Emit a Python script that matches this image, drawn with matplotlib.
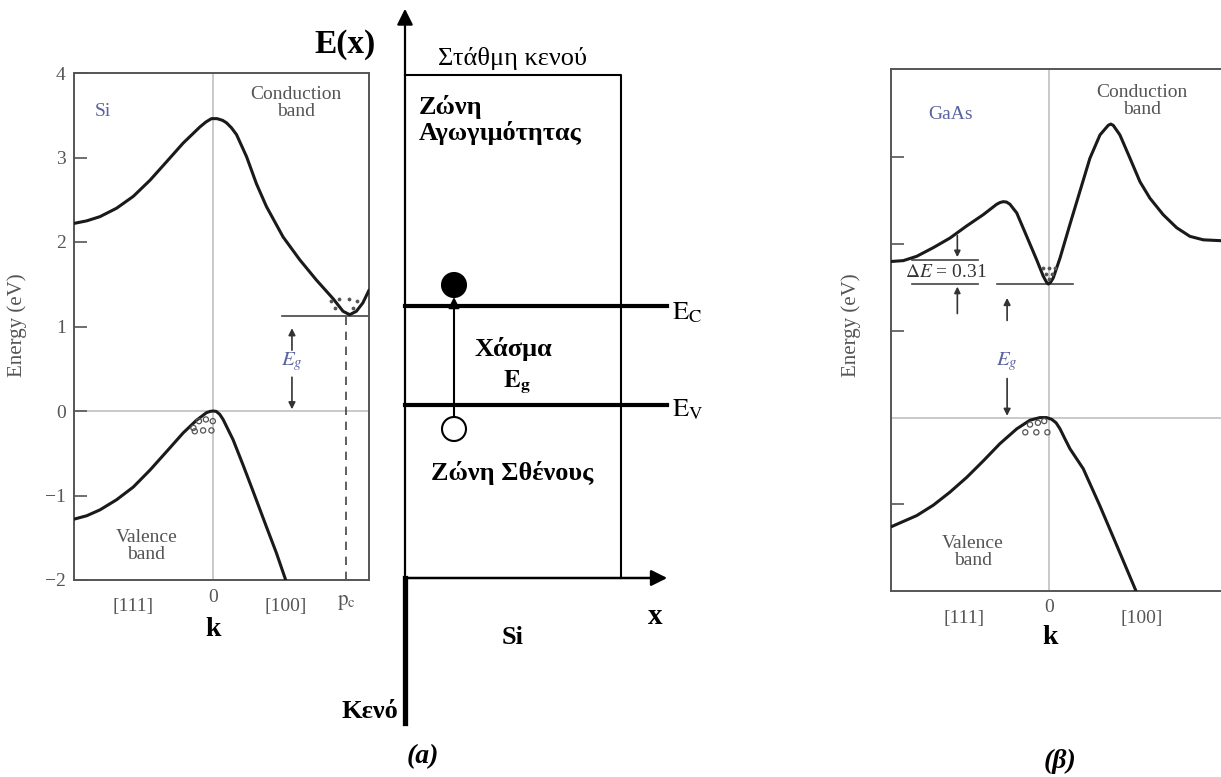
import numpy as np
import matplotlib
matplotlib.use('Agg')
import matplotlib.pyplot as plt
from matplotlib.patches import Circle

plt.rcParams['font.family'] = ['Liberation Serif', 'DejaVu Serif']
plt.rcParams['mathtext.fontset'] = 'stix'

# Si band structure, k in arbitrary units (0 = zone centre), E in eV
si_cb_k = [-1.0, -0.909, -0.813, -0.693, -0.573, -0.453, -0.333, -0.214, -0.094, -0.05, -0.01, 0.03,
           0.07, 0.099, 0.135, 0.171, 0.243, 0.314, 0.386, 0.506, 0.626, 0.746, 0.866, 0.938, 0.986,
           1.034, 1.081, 1.125]
si_cb_E = [2.22, 2.25, 2.30, 2.40, 2.54, 2.73, 2.95, 3.17, 3.36, 3.42, 3.46, 3.46,
           3.44, 3.41, 3.35, 3.27, 3.01, 2.69, 2.42, 2.06, 1.79, 1.55, 1.33, 1.18, 1.14,
           1.18, 1.28, 1.43]
si_vb_k = [-1.0, -0.909, -0.813, -0.693, -0.573, -0.453, -0.333, -0.214, -0.118, -0.046, -0.02, 0.002,
           0.025, 0.05, 0.074, 0.146, 0.218, 0.290, 0.386, 0.458, 0.525]
si_vb_E = [-1.28, -1.24, -1.17, -1.05, -0.90, -0.70, -0.48, -0.26, -0.11, -0.02, -0.005, 0.0,
           -0.005, -0.04, -0.10, -0.34, -0.64, -0.95, -1.37, -1.68, -2.0]
si_gap = 1.13
si_pc = 0.957
si_holes_k = [-0.14, -0.10, -0.05, 0.0, -0.13, -0.07, -0.01]
si_holes_E = [-0.20, -0.12, -0.10, -0.12, -0.24, -0.23, -0.23]
si_el_k = [0.85, 0.91, 0.98, 1.04, 0.88, 1.01]
si_el_E = [1.30, 1.33, 1.33, 1.30, 1.22, 1.22]

# GaAs band structure
gaas_cb_k = [-1.0, -0.922, -0.837, -0.732, -0.627, -0.521, -0.416, -0.331, -0.31, -0.289, -0.268,
             -0.247, -0.204, -0.141, -0.078, -0.036, -0.015, -0.004, 0.01, 0.027, 0.070, 0.133,
             0.196, 0.259, 0.323, 0.375, 0.391, 0.407, 0.449, 0.513, 0.576, 0.639, 0.723, 0.808,
             0.892, 0.977, 1.089]
gaas_cb_E = [1.80, 1.81, 1.86, 1.96, 2.07, 2.21, 2.34, 2.46, 2.48, 2.49, 2.485,
             2.46, 2.36, 2.09, 1.82, 1.63, 1.56, 1.54, 1.56, 1.61, 1.84, 2.23,
             2.61, 2.99, 3.26, 3.37, 3.385, 3.37, 3.26, 2.99, 2.72, 2.53, 2.34, 2.19,
             2.09, 2.05, 2.04]
gaas_vb_k = [-1.0, -0.837, -0.732, -0.627, -0.521, -0.416, -0.310, -0.204, -0.120, -0.057, -0.015,
             0.017, 0.045, 0.070, 0.101, 0.133, 0.217, 0.323, 0.428, 0.551]
gaas_vb_E = [-1.26, -1.13, -1.01, -0.86, -0.69, -0.50, -0.30, -0.13, -0.03, 0.0, 0.0,
             -0.02, -0.06, -0.13, -0.245, -0.36, -0.59, -1.02, -1.47, -2.0]
gaas_gap = 1.54
gaas_side = 1.82
gaas_holes_k = [-0.15, -0.08, -0.01, -0.12, -0.07, -0.03]
gaas_holes_E = [-0.17, -0.17, -0.17, -0.08, -0.06, -0.04]
gaas_el_k = [-0.04, 0.0, 0.04, -0.02, 0.02, 0.0]
gaas_el_E = [1.72, 1.72, 1.72, 1.66, 1.66, 1.60]

ink = '#1a1a1a'
grey_txt = '#555555'
blue_txt = '#5863a0'

fig = plt.figure(figsize=(12.21, 7.77), dpi=100)


def band_panel(rect, xlim, ylim):
    ax = fig.add_axes(rect)
    ax.set_xlim(*xlim)
    ax.set_ylim(*ylim)
    ax.patch.set_alpha(0)
    for s in ax.spines.values():
        s.set_color('#555555')
        s.set_linewidth(1.4)
    ax.tick_params(axis='y', direction='in', length=9, width=1.2, color='#555555',
                   labelsize=14, labelcolor=grey_txt, pad=6)
    ax.tick_params(axis='x', length=0, labelbottom=False)
    ax.axhline(0, color='#bbbbbb', lw=1.1, zorder=1)
    ax.axvline(0, color='#bbbbbb', lw=1.1, zorder=1)
    return ax


def arrow(ax, x, y0, y1, ms=10):
    ax.annotate('', xy=(x, y1), xytext=(x, y0),
                arrowprops=dict(arrowstyle='-|>', color='#333333', lw=1.2, mutation_scale=ms,
                                shrinkA=0, shrinkB=0))


# ---- (a) left: Si E-k diagram
ax1 = band_panel([74 / 1221, 1 - 580 / 777, 295 / 1221, 507 / 777], (-1.0, 1.125), (-2, 4))
ax1.set_yticks([-2, -1, 0, 1, 2, 3, 4])
ax1.set_yticklabels(['\u22122', '\u22121', '0', '1', '2', '3', '4'])
ax1.plot(si_cb_k, si_cb_E, color=ink, lw=2.2, zorder=3, solid_capstyle='round')
ax1.plot(si_vb_k, si_vb_E, color=ink, lw=2.2, zorder=3, solid_capstyle='round')
ax1.plot([0.5, 1.125], [si_gap, si_gap], color='#444444', lw=1.2)
ax1.plot([si_pc, si_pc], [-2, si_gap], color='#444444', lw=1.2, ls=(0, (5, 4)))
ax1.scatter(si_holes_k, si_holes_E, s=14, facecolors='none', edgecolors='#555555', lw=0.9, zorder=4)
ax1.scatter(si_el_k, si_el_E, s=3, color='#555555', zorder=4)
arrow(ax1, 0.57, 0.72, 0.98)
arrow(ax1, 0.57, 0.40, 0.02)
ax1.text(0.57, 0.58, r'$E_g$', color=blue_txt, fontsize=15, ha='center', va='center')
ax1.text(-0.79, 3.55, 'Si', color=blue_txt, fontsize=14, ha='center', va='center')
ax1.text(0.60, 3.65, 'Conduction\nband', color=grey_txt, fontsize=14, ha='center', va='center',
         linespacing=1.0)
ax1.text(-0.48, -1.6, 'Valence\nband', color=grey_txt, fontsize=14, ha='center', va='center',
         linespacing=1.0)

# ---- (b) right: GaAs E-k diagram
ax2 = band_panel([891 / 1221, 1 - 591 / 777, 330 / 1221, 522 / 777], (-1.0, 1.089), (-2, 4.02))
ax2.spines['right'].set_visible(False)
ax2.set_yticks([-1, 1, 2, 3])
ax2.set_yticklabels([])
ax2.plot(gaas_cb_k, gaas_cb_E, color=ink, lw=2.2, zorder=3, solid_capstyle='round')
ax2.plot(gaas_vb_k, gaas_vb_E, color=ink, lw=2.2, zorder=3, solid_capstyle='round')
ax2.plot([-0.87, -0.45], [gaas_side, gaas_side], color='#444444', lw=1.2)
ax2.plot([-0.87, -0.45], [gaas_gap, gaas_gap], color='#444444', lw=1.2)
ax2.plot([-0.33, 0.15], [gaas_gap, gaas_gap], color='#444444', lw=1.2)
ax2.scatter(gaas_holes_k, gaas_holes_E, s=14, facecolors='none', edgecolors='#555555', lw=0.9, zorder=4)
ax2.scatter(gaas_el_k, gaas_el_E, s=3, color='#555555', zorder=4)
arrow(ax2, -0.58, 2.1, gaas_side + 0.03, ms=9)
arrow(ax2, -0.58, 1.2, gaas_gap - 0.03, ms=9)
arrow(ax2, -0.265, 1.12, 1.38)
arrow(ax2, -0.265, 0.45, 0.02)
ax2.text(-0.265, 0.65, r'$E_g$', color=blue_txt, fontsize=15, ha='center', va='center')
ax2.text(-0.65, 1.67, r'$\Delta E$ = 0.31', color='#333333', fontsize=14, ha='center', va='center')
ax2.text(-0.62, 3.5, 'GaAs', color=blue_txt, fontsize=14, ha='center', va='center')
ax2.text(0.59, 3.65, 'Conduction\nband', color=grey_txt, fontsize=14, ha='center', va='center',
         linespacing=1.0)
ax2.text(-0.48, -1.55, 'Valence\nband', color=grey_txt, fontsize=14, ha='center', va='center',
         linespacing=1.0)

# ---- overlay in pixel coordinates for the schematic and free labels
ax0 = fig.add_axes([0, 0, 1, 1], zorder=5)
ax0.set_xlim(0, 1221)
ax0.set_ylim(777, 0)
ax0.axis('off')

# k-axis labels of the two panels
for x, y, s in [(133, 607, '[111]'), (213, 597, '0'), (286, 607, '[100]'),
                (964, 618, '[111]'), (1049, 608, '0'), (1142, 618, '[100]')]:
    ax0.text(x, y, s, color=grey_txt, fontsize=14, ha='center', va='center')
ax0.text(346, 603, r'$\mathrm{p}_\mathrm{c}$', color=grey_txt, fontsize=15, ha='center', va='center')
ax0.text(213, 630, 'k', fontsize=20, fontweight='bold', ha='center', va='center')
ax0.text(1050, 637, 'k', fontsize=20, fontweight='bold', ha='center', va='center')
ax0.text(17, 325, 'Energy (eV)', color=grey_txt, fontsize=15, rotation=90, ha='center', va='center')
ax0.text(851, 325, 'Energy (eV)', color=grey_txt, fontsize=15, rotation=90, ha='center', va='center')

# energy axis and x axis of the schematic
ax0.annotate('', xy=(405, 6), xytext=(405, 578),
             arrowprops=dict(arrowstyle='-|>', color='k', lw=1.6, mutation_scale=24))
ax0.plot([405, 405], [578, 723], color='k', lw=3.8)
ax0.annotate('', xy=(670, 578), xytext=(405, 578),
             arrowprops=dict(arrowstyle='-|>', color='k', lw=1.8, mutation_scale=24))
# box of the solid
ax0.plot([405, 621, 621], [75, 75, 578], color='k', lw=1.5)
# band edges
ax0.plot([405, 667], [306, 306], color='k', lw=3.0)
ax0.plot([405, 667], [405, 405], color='k', lw=3.0)
# electron and hole
ax0.add_patch(Circle((454, 285), 12, facecolor='k', edgecolor='k', lw=1.5))
ax0.add_patch(Circle((454, 429), 12, facecolor='white', edgecolor='k', lw=1.5))
ax0.annotate('', xy=(454, 297), xytext=(454, 417),
             arrowprops=dict(arrowstyle='-|>', color='k', lw=1.5, mutation_scale=16,
                             shrinkA=0, shrinkB=0))

ax0.text(345, 44, 'E(x)', fontsize=24, fontweight='bold', ha='center', va='center')
ax0.text(512, 59, 'Στάθμη κενού', fontsize=19, ha='center', va='center')
ax0.text(419, 107, 'Ζώνη', fontsize=19, fontweight='bold', ha='left', va='center')
ax0.text(419, 133, 'Αγωγιμότητας', fontsize=19, fontweight='bold', ha='left', va='center')
ax0.text(513, 349, 'Χάσμα', fontsize=19, fontweight='bold', ha='center', va='center')
ax0.text(517, 382, r'$\mathbf{E}_{\mathbf{g}}$', fontsize=18, ha='center', va='center')
ax0.text(672, 313, r'$\mathrm{E}_{\mathrm{C}}$', fontsize=19, ha='left', va='center')
ax0.text(672, 410, r'$\mathrm{E}_{\mathrm{V}}$', fontsize=19, ha='left', va='center')
ax0.text(512, 473, 'Ζώνη Σθένους', fontsize=19, fontweight='bold', ha='center', va='center')
ax0.text(513, 637, 'Si', fontsize=19, fontweight='bold', ha='center', va='center')
ax0.text(655, 617, 'x', fontsize=21, fontweight='bold', ha='center', va='center')
ax0.text(398, 711, 'Κενό', fontsize=19, fontweight='bold', ha='right', va='center')
ax0.text(423, 757, '(a)', fontsize=20, fontweight='bold', fontstyle='italic', ha='center', va='center')
ax0.text(1060, 761, '(β)', fontsize=20, fontweight='bold', fontstyle='italic', ha='center', va='center')

fig.savefig('out.png', dpi=100)
